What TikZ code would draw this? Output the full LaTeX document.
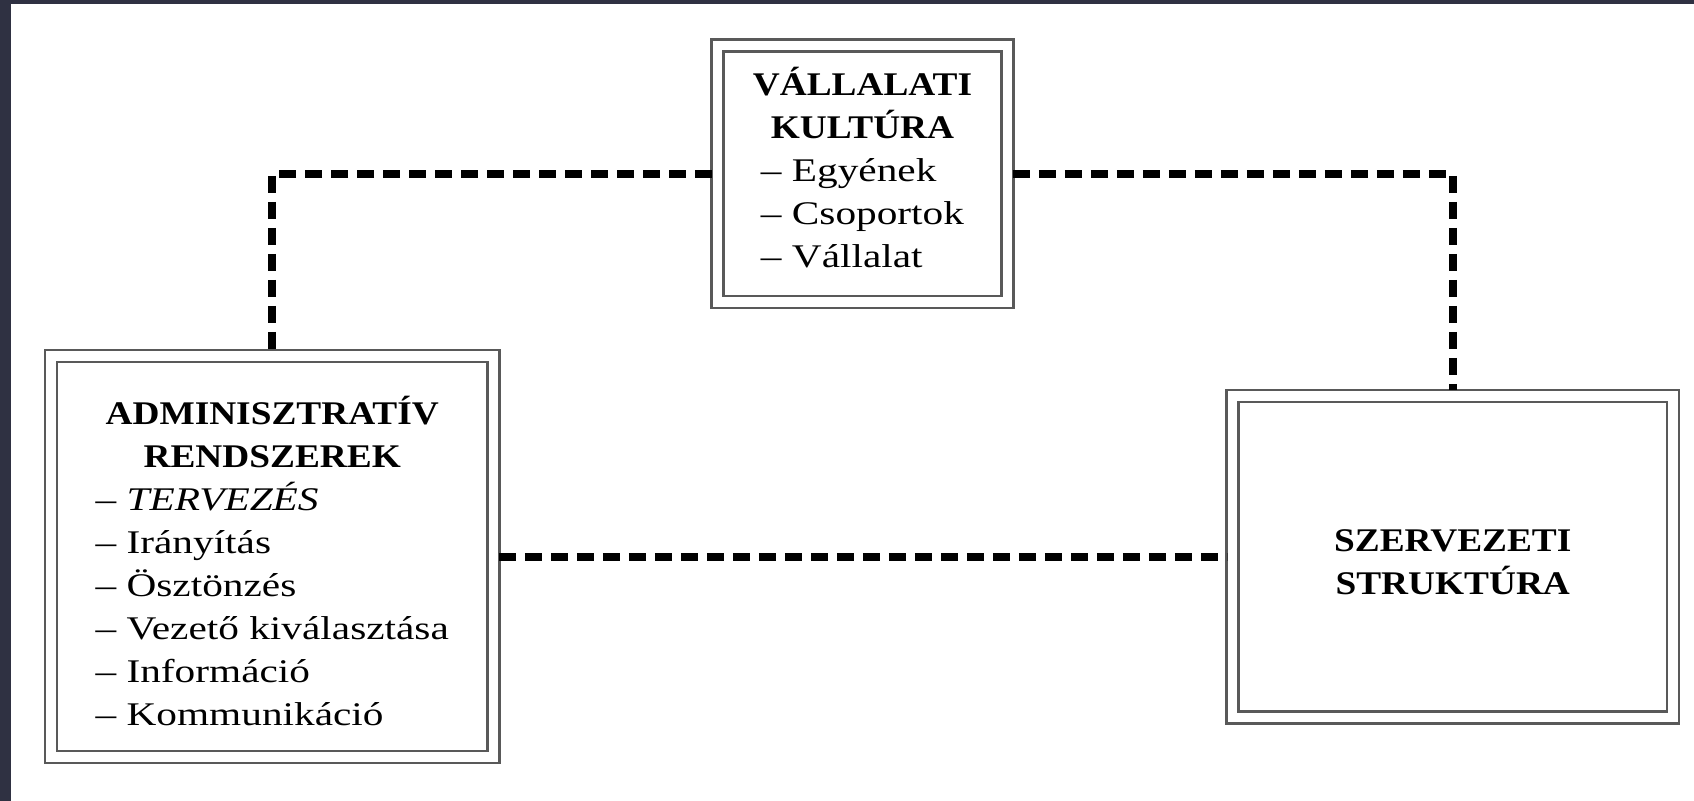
\documentclass[tikz,border=0pt]{standalone}
\usepackage{fontspec}
\setmainfont{Liberation Serif}[UprightFeatures={FakeStretch=1.25}, ItalicFeatures={FakeStretch=1.25}, BoldFeatures={FakeStretch=1.13}]
\usepackage{xcolor}
\usetikzlibrary{positioning}
\definecolor{keret}{HTML}{2F3142}

\begin{document}
\begin{tikzpicture}[node distance = 7.655cm and 11.805cm, on grid,
  box/.style ={draw=black!65, double, line width=0.05cm, double distance=0.19cm, outer sep=0.11cm, align=center, font=\fontsize{18.8}{24.5}\selectfont},
  link/.style ={line width=0.16cm, dash pattern=on 0.34cm off 0.18cm}]
\useasboundingbox (-17.25,-12.545) rectangle (16.63,3.475);
%\fill[white] (-17.25,-12.545) rectangle (16.63,3.475);
\fill[keret] (-17.25,3.475) rectangle (16.63,3.395);
\fill[keret] (-17.25,3.475) rectangle (-17.03,-12.545);

\node[box, minimum width=5.8cm, minimum height=5.13cm] (kultura) {\textbf{VÁLLALATI}\\\textbf{KULTÚRA}\\
  \begin{tabular}[t]{@{}l@{}}– Egyének\\– Csoportok\\– Vállalat\end{tabular}};
\node[box, minimum width=8.85cm, minimum height=8.02cm] (admin) [below left =of kultura] {\rule{0pt}{28.7pt}\textbf{ADMINISZTRATÍV}\\\textbf{RENDSZEREK}\\
  \begin{tabular}[t]{@{}l@{}}– \textit{TERVEZÉS}\\– Irányítás\\– Ösztönzés\\– Vezető kiválasztása\\– Információ\\– Kommunikáció\end{tabular}};
\node[box, minimum width=8.81cm, minimum height=6.43cm] (struktura) [below right =of kultura, yshift=0pt] {\rule{0pt}{19pt}\textbf{SZERVEZETI}\\\textbf{STRUKTÚRA}};

%\draw[link] (kultura) -- (struktura);
\draw[link] (kultura.west) -| (admin.north);
\draw[link] (kultura.east) -| (struktura.north);
\draw[link] (admin.east) -- (struktura.west);
\end{tikzpicture}
\end{document}
